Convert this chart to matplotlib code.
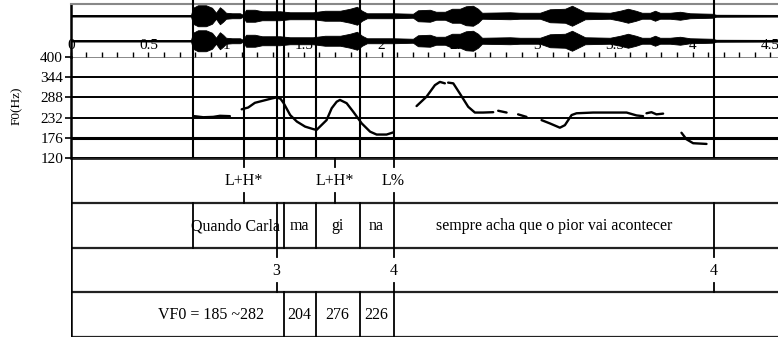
import numpy as np
import matplotlib.pyplot as plt

plt.rcParams['font.family'] = ['Liberation Serif', 'DejaVu Serif']

# ---- data ----
# waveform envelope (time s, half-amplitude as fraction of channel height)
env_t = [0.0, 0.774, 0.787, 0.819, 0.870, 0.909, 0.935, 0.948, 0.960, 0.980,
         0.999, 1.038, 1.089, 1.108, 1.128, 1.185, 1.231, 1.346, 1.410, 1.558,
         1.636, 1.733, 1.797, 1.842, 1.874, 1.906, 2.073, 2.202, 2.234, 2.311,
         2.350, 2.408, 2.453, 2.504, 2.543, 2.588, 2.620, 2.646, 2.826, 2.890,
         3.019, 3.083, 3.180, 3.225, 3.264, 3.309, 3.469, 3.534, 3.585, 3.636,
         3.675, 3.727, 3.759, 3.791, 3.855, 3.920, 3.984, 4.126, 4.152, 4.63]
env_a = [0.064, 0.064, 0.64, 0.84, 0.84, 0.64, 0.24, 0.48, 0.68, 0.48,
         0.24, 0.2, 0.2, 0.08, 0.48, 0.48, 0.36, 0.36, 0.28, 0.28,
         0.4, 0.4, 0.56, 0.72, 0.4, 0.2, 0.2, 0.16, 0.44, 0.48,
         0.32, 0.32, 0.56, 0.56, 0.76, 0.8, 0.56, 0.24, 0.28, 0.24,
         0.24, 0.52, 0.56, 0.8, 0.56, 0.28, 0.24, 0.4, 0.56, 0.4,
         0.24, 0.24, 0.4, 0.24, 0.24, 0.32, 0.2, 0.16, 0.08, 0.064]

# F0 contour pieces (time s, Hz)
f0_pieces = [
    ([0.795, 0.853, 0.917, 0.960, 1.024], [236, 233, 234, 237, 236]),
    ([1.100, 1.142, 1.185, 1.239, 1.293, 1.325, 1.350, 1.370, 1.412, 1.455,
      1.508, 1.561, 1.582, 1.646, 1.679, 1.711, 1.732, 1.775, 1.818, 1.872,
      1.926, 1.968, 2.032, 2.075],
     [255, 260, 273, 279, 285, 288, 284, 272, 239, 221,
      207, 200, 198, 225, 258, 276, 281, 272, 248, 216,
      193, 185, 185, 191]),
    ([2.225, 2.289, 2.343, 2.375, 2.407], [264, 290, 322, 331, 327]),
    ([2.428, 2.461, 2.503, 2.557, 2.600, 2.653, 2.718], [329, 327, 299, 262, 246, 246, 247]),
    ([2.750, 2.804], [251, 246]),
    ([2.878, 2.932], [241, 234]),
    ([3.029, 3.082, 3.147, 3.179, 3.222, 3.254, 3.361, 3.489, 3.576, 3.640, 3.682],
     [225, 216, 204, 211, 239, 244, 246, 246, 246, 238, 236]),
    ([3.704, 3.736, 3.768, 3.811], [244, 247, 241, 243]),
    ([3.929, 3.961, 4.004, 4.090], [190, 172, 161, 159]),
]
f0_ticks = [120, 176, 232, 288, 344, 400]

# boundaries drawn through sound and pitch
mark_times = [0.789, 1.115, 1.325, 1.369, 1.575, 1.858, 2.077, 4.139]

tone_times = [1.115, 1.700, 2.077]
tone_labels = ['L+H*', 'L+H*', 'L%']

word_bounds = [0.789, 1.325, 1.369, 1.575, 1.858, 2.077, 4.139]
word_labels = ['Quando Carla', '', 'ma', 'gi', 'na', 'sempre acha que o pior vai acontecer']

break_times = [1.325, 2.077, 4.139]
break_labels = ['3', '4', '4']

vf0_bounds = [1.369, 1.575, 1.858, 2.077]
vf0_label_times = [0.905, 1.472, 1.717, 1.968]
vf0_labels = ['VF0 = 185 ~282', '204', '276', '226']

# ---- layout (pixels) ----
W, H = 778, 339
X0 = 70.7
TMAX = 4.55
fig = plt.figure(figsize=(W / 100, H / 100), dpi=100)


def px_axes(top, bottom, left=X0, right=W):
    return fig.add_axes([left / W, 1 - bottom / H, (right - left) / W, (bottom - top) / H])


fs = 11.5
fs_tick = 11

# pitch panel
ax_f0 = px_axes(57, 158)
ax_f0.set_xlim(0, TMAX)
ax_f0.set_ylim(120, 400)
for v in f0_ticks:
    ax_f0.axhline(v, color='#888888' if v == 400 else 'black',
                  lw=2.2 if v == 176 else 1.4, zorder=1)
for t, hz in f0_pieces:
    ax_f0.plot(t, hz, color='black', lw=1.7, solid_capstyle='round', zorder=3)
ax_f0.set_yticks(f0_ticks)
ax_f0.tick_params(axis='y', direction='out', length=4.5, width=1.2, pad=1, labelsize=fs_tick)
ax_f0.xaxis.tick_top()
ax_f0.set_xticks(np.arange(0, TMAX, 0.5))
ax_f0.set_xticks(np.arange(0, TMAX, 0.1), minor=True)
ax_f0.set_xticklabels(['0' if x == 0 else ('%g' % x) for x in np.arange(0, TMAX, 0.5)])
ax_f0.tick_params(axis='x', which='both', direction='out', length=3.5, width=1,
                  pad=0, labelsize=fs_tick)
for s in ['top', 'right', 'bottom']:
    ax_f0.spines[s].set_visible(False)
ax_f0.spines['left'].set_linewidth(1.8)
ax_f0.set_ylabel('F0(Hz)', fontsize=9.5)
ax_f0.yaxis.set_label_coords((23 - X0) / (W - X0), 0.52)

# waveform (two channels), drawn over the time labels
ax_w = px_axes(4, 57)
ax_w.patch.set_alpha(0)
ax_w.set_xlim(0, TMAX)
ax_w.set_ylim(-2.3, 1.94)
for c in (1, -1):
    lo = [c - a for a in env_a]
    hi = [c + a for a in env_a]
    ax_w.fill_between(env_t, lo, hi, color='black', lw=0.6, edgecolor='black')
    ax_w.axhline(c, color='black', lw=1.2)
ax_w.set_xticks([])
ax_w.set_yticks([])
for s in ['right', 'bottom']:
    ax_w.spines[s].set_visible(False)
ax_w.spines['top'].set_color('#888888')
ax_w.spines['top'].set_linewidth(1.5)
ax_w.spines['left'].set_linewidth(1.8)

# boundary lines through sound and pitch
ax_m = px_axes(0, 158)
ax_m.patch.set_alpha(0)
ax_m.set_xlim(0, TMAX)
ax_m.set_ylim(0, 1)
ax_m.axis('off')
for t in mark_times:
    ax_m.axvline(t, color='black', lw=1.5)

# text grid tiers
ax_tg = px_axes(158, 337)
ax_tg.set_xlim(0, TMAX)
ax_tg.set_ylim(4, 0)
ax_tg.axis('off')
for k in range(5):
    ax_tg.axhline(k, color='#222222', lw=1.6 if k else 2.0)
ax_tg.axvline(0, color='black', lw=1.8)
tick = 0.21


def point_tier(row, times, labels):
    for t, lab in zip(times, labels):
        ax_tg.plot([t, t], [row, row + tick], color='black', lw=1.3)
        ax_tg.plot([t, t], [row + 1 - tick, row + 1], color='black', lw=1.3)
        ax_tg.text(t, row + 0.52, lab, ha='center', va='center', fontsize=fs)


point_tier(0, tone_times, tone_labels)
for t in word_bounds:
    ax_tg.plot([t, t], [1, 2], color='black', lw=1.3)
for a, b, lab in zip(word_bounds[:-1], word_bounds[1:], word_labels):
    ax_tg.text((a + b) / 2, 1.52, lab, ha='center', va='center', fontsize=fs)
point_tier(2, break_times, break_labels)
for t in vf0_bounds:
    ax_tg.plot([t, t], [3, 4], color='black', lw=1.3)
for t, lab in zip(vf0_label_times, vf0_labels):
    ax_tg.text(t, 3.5, lab, ha='center', va='center', fontsize=fs)

fig.savefig('out.png', dpi=100)
